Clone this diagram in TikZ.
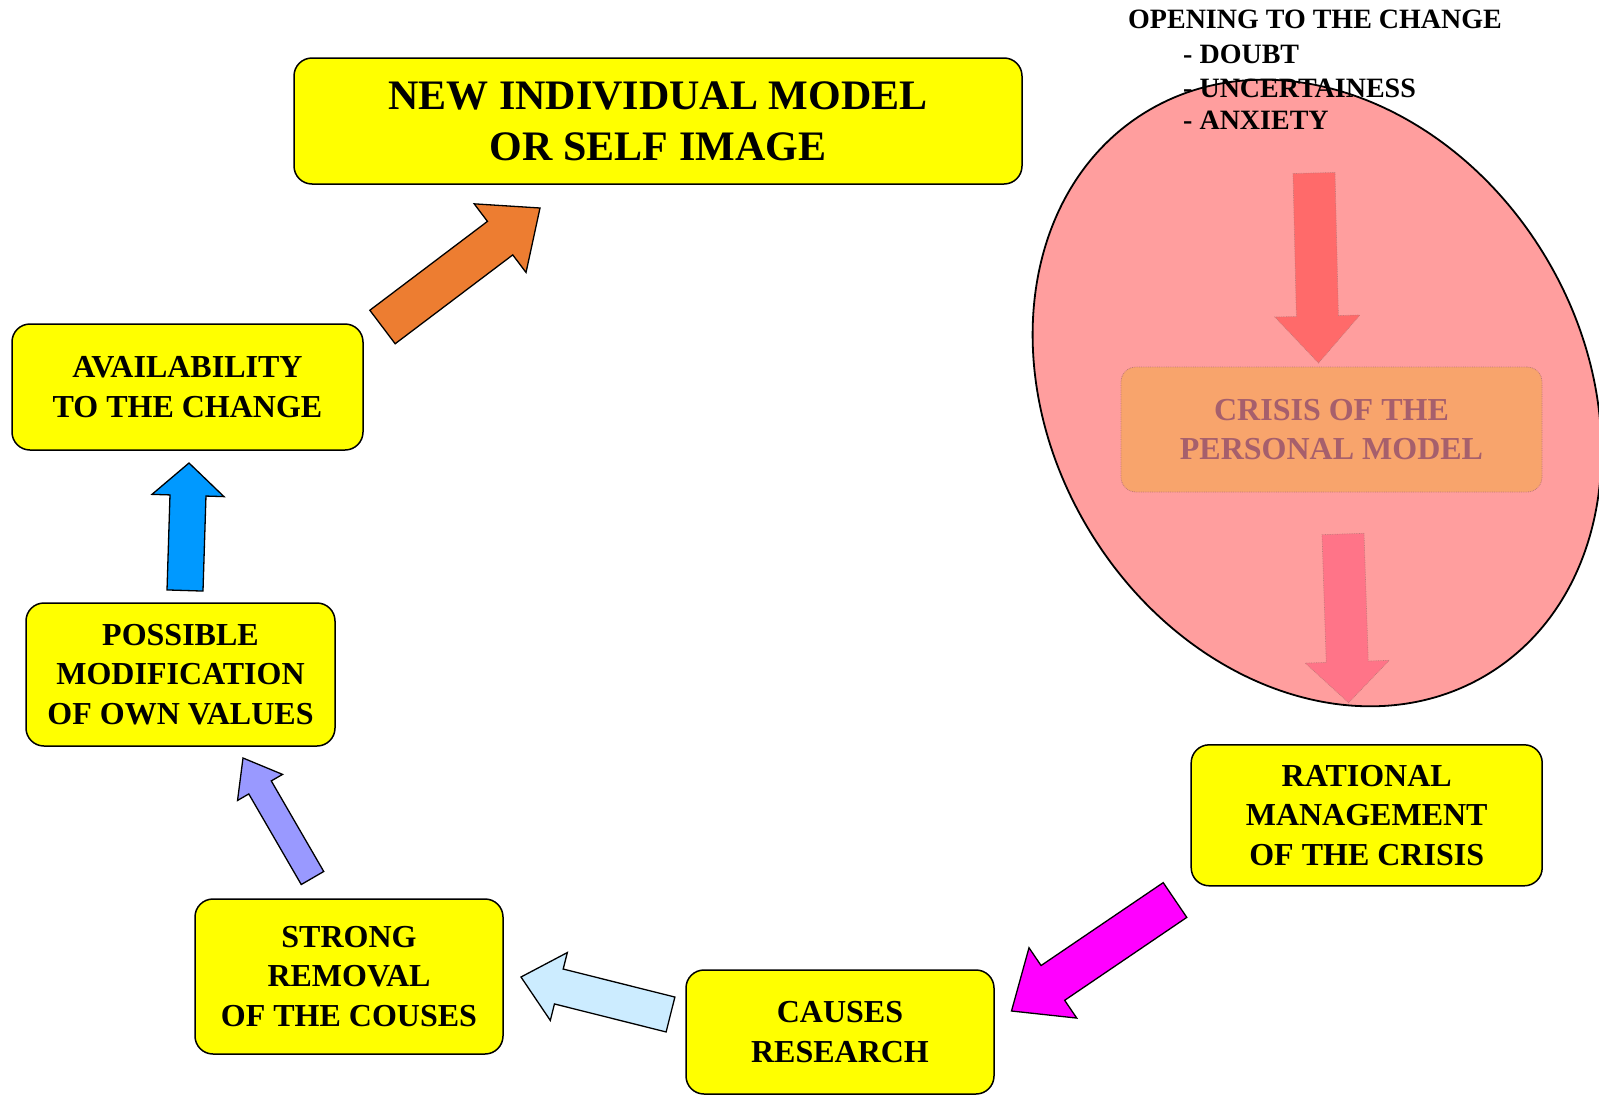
\documentclass[tikz,border=0pt]{standalone}
\usepackage{fontspec}
\setmainfont{Liberation Serif}
\usetikzlibrary{calc}

\definecolor{stageyellow}{HTML}{FFFF00}
\definecolor{arrorange}{HTML}{ED7D31}
\definecolor{arrblue}{HTML}{0099FF}
\definecolor{arrlavender}{HTML}{9999FF}
\definecolor{arrlightblue}{HTML}{CCECFF}
\definecolor{arrmagenta}{HTML}{FF00FF}
\definecolor{crisispink}{HTML}{FF9E9E}
\definecolor{crisisorange}{HTML}{F8A46C}
\definecolor{crisistext}{HTML}{A65F6C}
\definecolor{crisisline}{HTML}{C07878}
\definecolor{innerred}{HTML}{FF6A6A}
\definecolor{innerpink}{HTML}{FF7488}

\tikzset{
  stage/.style={draw=black, line width=1.5pt, fill=stageyellow, rounded corners=18pt,
    align=center, inner sep=0pt, font=\bfseries\fontsize{32}{39.5}\selectfont,
    execute at begin node={\rule{0pt}{32pt}}},
  crisisbox/.style={draw=crisisline, line width=0.8pt, densely dotted, fill=crisisorange,
    rounded corners=15pt, align=center, inner sep=0pt, text=crisistext,
    font=\bfseries\fontsize{32}{39.5}\selectfont,
    execute at begin node={\rule{0pt}{32pt}}},
  note/.style={inner sep=0pt, font=\bfseries\fontsize{28}{33}\selectfont},
  blockarr/.style={draw=black, line width=1.3pt, line join=miter},
  innerarr/.style={draw=crisisline, line width=0.7pt, densely dotted},
}

% block arrow: #1 name, #2 style, #3 tail, #4 tip, #5 half shaft, #6 half head, #7 head length
\newcommand\blockarrow[7]{%
  \coordinate (#1-base) at ($(#4)!#7pt!(#3)$);
  \draw[#2] ($(#3)!#5pt!90:(#4)$) -- ($(#1-base)!#5pt!90:(#4)$)
    -- ($(#1-base)!#6pt!90:(#4)$) -- (#4)
    -- ($(#1-base)!#6pt!-90:(#4)$) -- ($(#1-base)!#5pt!-90:(#4)$)
    -- ($(#3)!#5pt!-90:(#4)$) -- cycle;
}

\begin{document}
\begin{tikzpicture}[x=1pt,y=-1pt]
\useasboundingbox (0,0) rectangle (1599,1095);
\fill[white] (0,0) rectangle (1599,1095);

% crisis area
\begin{scope}[shift={(1317,393)}, rotate=-58.7]
  \draw[fill=crisispink, line width=1.8pt] (0,0) ellipse [x radius=329pt, y radius=266pt];
\end{scope}

\coordinate (inA1) at (1314,173);
\coordinate (inA2) at (1318.5,363);
\coordinate (inB1) at (1343,534);
\coordinate (inB2) at (1348.6,702.7);
\blockarrow{inA}{innerarr, fill=innerred}{inA1}{inA2}{21}{42.5}{47}
\blockarrow{inB}{innerarr, fill=innerpink}{inB1}{inB2}{21}{42}{41}

\node[crisisbox, minimum width=421pt, minimum height=125pt] (crisis) at (1331.5,429.5)
  {CRISIS OF THE\\PERSONAL MODEL};

% heading of the crisis area
\node[note, anchor=base west] (opening) at (1128,28.8) {OPENING TO THE CHANGE};
\node[note, anchor=base west] (doubt) at (1183,63.3) {- DOUBT};
\node[note, anchor=base west] (uncert) at (1183,97) {- UNCERTAINESS};
\node[note, anchor=base west] (anxiety) at (1183,129.3) {- ANXIETY};

% stages
\node[stage, minimum width=728pt, minimum height=126pt,
  font=\bfseries\fontsize{42}{51}\selectfont,
  execute at begin node={\rule{0pt}{40pt}}] (newmodel) at (658,121)
  {NEW INDIVIDUAL MODEL\\OR SELF IMAGE};
\node[stage, minimum width=351pt, minimum height=126pt] (avail) at (187.5,387)
  {AVAILABILITY\\TO THE CHANGE};
\node[stage, minimum width=309pt, minimum height=143pt] (possible) at (180.5,674.5)
  {POSSIBLE\\MODIFICATION\\OF OWN VALUES};
\node[stage, minimum width=308pt, minimum height=155pt] (strong) at (349,976.5)
  {STRONG\\REMOVAL\\OF THE COUSES};
\node[stage, minimum width=308pt, minimum height=124pt] (causes) at (840,1032)
  {CAUSES\\RESEARCH};
\node[stage, minimum width=351pt, minimum height=141pt] (rational) at (1366.7,815.3)
  {RATIONAL\\MANAGEMENT\\OF THE CRISIS};

% arrows of the cycle
\coordinate (magT) at (1175,900);
\coordinate (magH) at (1011.5,1011);
\coordinate (lbT) at (670.5,1014.5);
\coordinate (lbH) at (521,977);
\coordinate (lavT) at (312.5,878);
\coordinate (lavH) at (243,758);
\coordinate (blT) at (185,590.5);
\coordinate (blH) at (189,463);
\coordinate (orT) at (382.5,327);
\coordinate (orH) at (540,208);

\blockarrow{mag}{blockarr, fill=arrmagenta}{magT}{magH}{21}{42.5}{50}
\blockarrow{lb}{blockarr, fill=arrlightblue}{lbT}{lbH}{18}{35}{39}
\blockarrow{lav}{blockarr, fill=arrlavender}{lavT}{lavH}{13}{26}{34}
\blockarrow{bl}{blockarr, fill=arrblue}{blT}{blH}{18}{36}{32.5}
\blockarrow{or}{blockarr, fill=arrorange}{orT}{orH}{21}{43}{50}
\end{tikzpicture}
\end{document}
